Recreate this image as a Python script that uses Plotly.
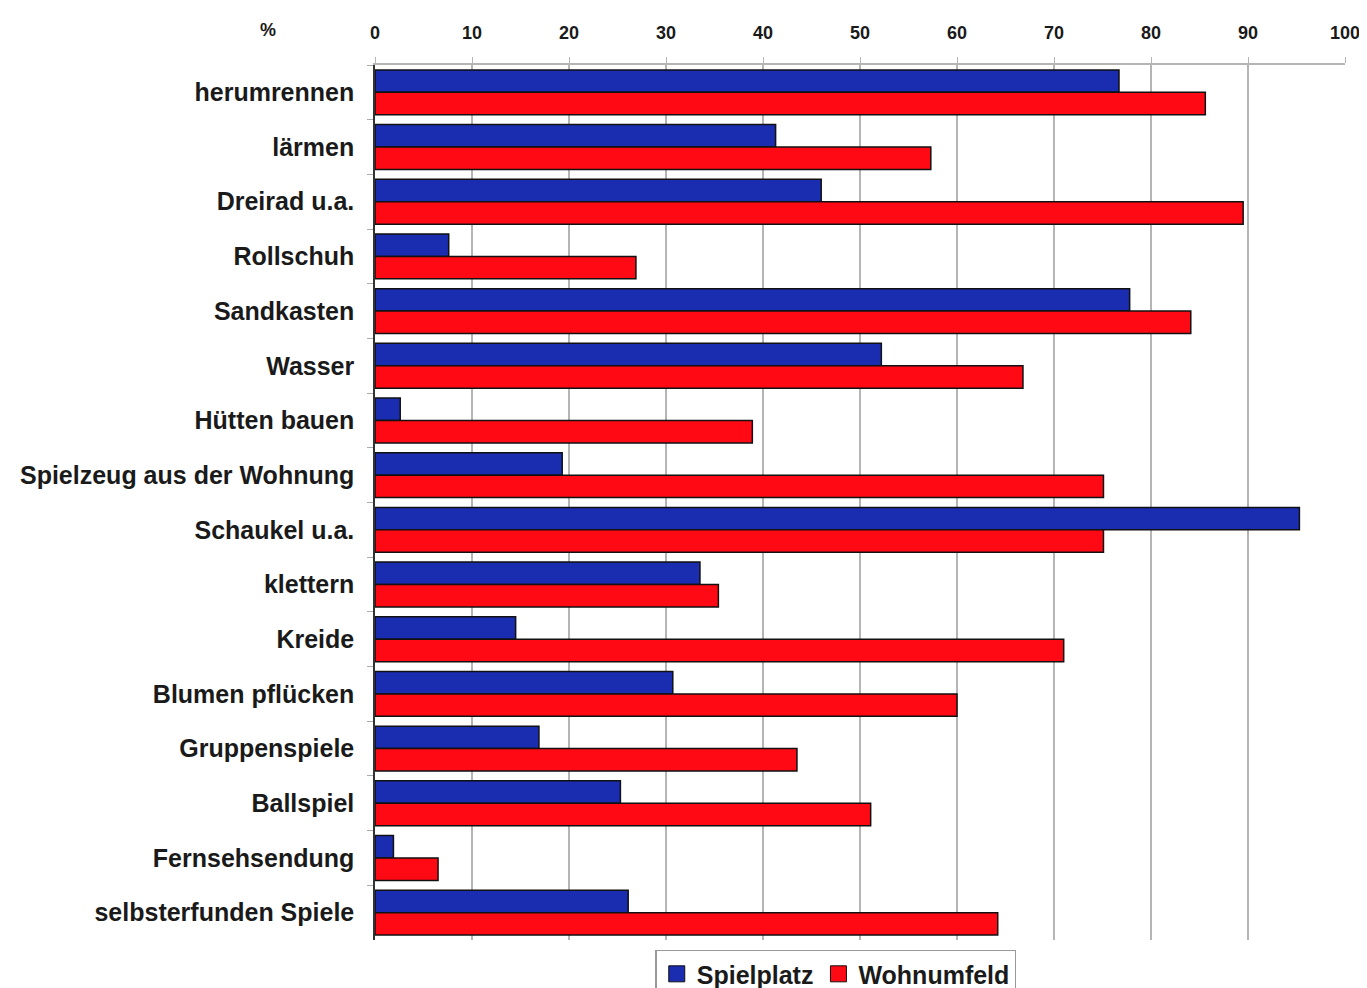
import plotly.graph_objects as go

categories = ["herumrennen", "lärmen", "Dreirad u.a.", "Rollschuh", "Sandkasten", "Wasser",
              "Hütten bauen", "Spielzeug aus der Wohnung", "Schaukel u.a.", "klettern", "Kreide",
              "Blumen pflücken", "Gruppenspiele", "Ballspiel", "Fernsehsendung", "selbsterfunden Spiele"]
spielplatz = [76.7, 41.3, 46.0, 7.6, 77.8, 52.2, 2.6, 19.3, 95.3, 33.5, 14.5, 30.7, 16.9, 25.3, 1.9, 26.1]
wohnumfeld = [85.6, 57.3, 89.5, 26.9, 84.1, 66.8, 38.9, 75.1, 75.1, 35.4, 71.0, 60.0, 43.5, 51.1, 6.5, 64.2]
x_ticks = [0, 10, 20, 30, 40, 50, 60, 70, 80, 90, 100]
series_names = ["Spielplatz", "Wohnumfeld"]
series_colors = ["#1a2cb0", "#ff0a14"]

FONT = "Liberation Sans, Arial, sans-serif"

fig = go.Figure()
for name, vals, col in zip(series_names, [spielplatz, wohnumfeld], series_colors):
    fig.add_trace(go.Bar(y=categories, x=vals, orientation="h", name=name, showlegend=False,
                         marker=dict(color=col, line=dict(color="#111111", width=1.5))))
# legend entries with larger square symbols
for name, col in zip(series_names, series_colors):
    fig.add_trace(go.Scatter(x=[None], y=[None], mode="markers", name=name,
                             marker=dict(symbol="square", size=16, color=col,
                                         line=dict(color="#111111", width=1))))

fig.update_layout(
    width=1367, height=988,
    margin=dict(l=367, r=30, t=57, b=56, autoexpand=False),
    paper_bgcolor="white", plot_bgcolor="white",
    barmode="group", bargap=0.18, bargroupgap=0,
    font=dict(family=FONT, color="#1a1a1a"),
    showlegend=True,
    legend=dict(orientation="h", x=0.475, xanchor="center",
                yref="container", y=0.047, yanchor="top",
                bordercolor="#999999", borderwidth=1.5, bgcolor="white",
                font=dict(family=FONT, size=25, weight="bold", color="#1a1a1a"),
                itemwidth=30, tracegroupgap=0),
    xaxis=dict(side="top", range=[0, 100], tickvals=x_ticks, ticktext=[str(v) for v in x_ticks],
               showgrid=True, gridcolor="#b5b5b5", gridwidth=1.5,
               showline=True, linecolor="#b5b5b5", linewidth=1.5,
               ticks="outside", ticklen=6, tickcolor="#b5b5b5",
               ticklabelstandoff=11, zeroline=False, automargin=False,
               tickfont=dict(family=FONT, size=18, weight="bold", color="#1a1a1a")),
    yaxis=dict(autorange="reversed", showline=True, linecolor="#333333", linewidth=1.5,
               ticks="outside", tickson="boundaries", ticklen=6, tickcolor="#aaaaaa",
               ticklabelstandoff=14, showgrid=False, automargin=False,
               tickfont=dict(family=FONT, size=25, weight="bold", color="#1a1a1a")),
    annotations=[dict(text="%", xref="paper", yref="paper", x=-0.11, y=1.0, yshift=35,
                      xanchor="center", yanchor="middle", showarrow=False,
                      font=dict(family=FONT, size=18, weight="bold", color="#1a1a1a"))],
)

fig.write_html("out.html")
